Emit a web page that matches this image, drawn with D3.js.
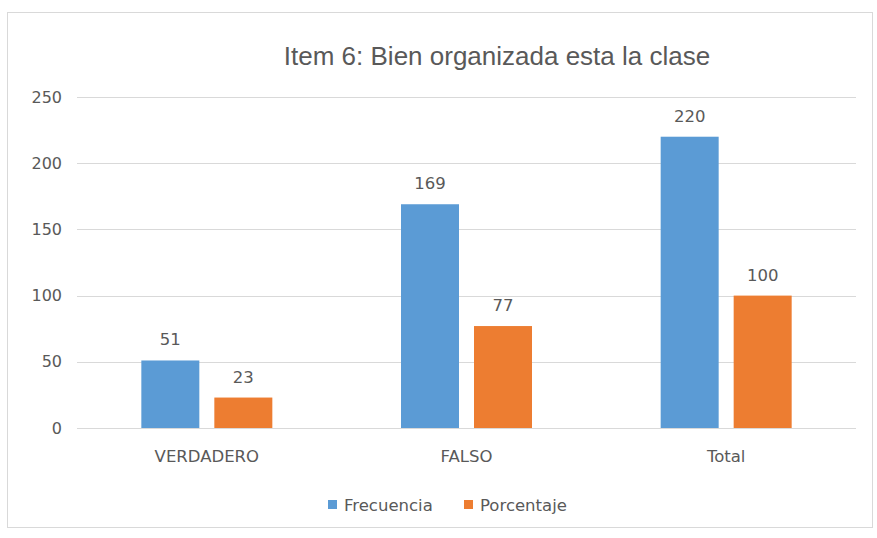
<!DOCTYPE html>
<html>
<head>
<meta charset="utf-8">
<script src="https://cdn.jsdelivr.net/npm/d3@7"></script>
<style>
  body { margin: 0; background: #fff; }
  text { fill: #595959; font-family: "DejaVu Sans", sans-serif; }
  .title { font-family: "Liberation Sans", Arial, sans-serif; font-size: 26px; }
</style>
</head>
<body>
<script>
// data
var categories = ["VERDADERO", "FALSO", "Total"];
var seriesNames = ["Frecuencia", "Porcentaje"];
var frecuencia = [51, 169, 220];
var porcentaje = [23, 77, 100];
var yTicks = [0, 50, 100, 150, 200, 250];
var titleText = "Item 6: Bien organizada esta la clase";

var colors = ["#5B9BD5", "#ED7D31"];

// size
var w = 877;
var h = 538;

// plot area
var pdL = 77;
var pdR = 21;
var pdT = 97;
var pdB = 110;

var svg = d3.select("body")
            .append("svg")
            .attr("width", w)
            .attr("height", h);

// chart border
svg.append("rect")
   .attr("x", 7.5)
   .attr("y", 12.5)
   .attr("width", 865)
   .attr("height", 515)
   .attr("fill", "#fff")
   .attr("stroke", "#d9d9d9")
   .attr("stroke-width", 1);

// scales
var scaleX = d3.scaleBand()
               .domain(categories)
               .range([pdL, w - pdR]);

var bw = scaleX.bandwidth();
var grpW = 131;
var scaleX1 = d3.scaleBand()
                .domain(seriesNames)
                .range([(bw - grpW) / 2, (bw + grpW) / 2])
                .paddingInner(15 / 73);

var scaleY = d3.scaleLinear()
               .domain([0, 250])
               .range([h - pdB, pdT]);

// gridlines
svg.append("g")
   .selectAll("line")
   .data(yTicks)
   .enter()
   .append("line")
   .attr("x1", pdL)
   .attr("x2", w - pdR)
   .attr("y1", function(d) { return Math.round(scaleY(d)) + 0.5; })
   .attr("y2", function(d) { return Math.round(scaleY(d)) + 0.5; })
   .attr("stroke", "#d9d9d9")
   .attr("stroke-width", 1);

// y axis labels
var axisY = d3.axisLeft(scaleY)
              .tickValues(yTicks)
              .tickSize(0)
              .tickPadding(15);
var gY = svg.append("g")
            .attr("transform", "translate(" + pdL + ",0)")
            .call(axisY);
gY.select(".domain").remove();
gY.selectAll("text")
  .attr("font-size", "16px")
  .attr("font-family", "DejaVu Sans")
  .attr("fill", "#595959");

// x axis labels
var axisX = d3.axisBottom(scaleX)
              .tickSize(0)
              .tickPadding(22);
var gX = svg.append("g")
            .attr("transform", "translate(0," + (h - pdB) + ")")
            .call(axisX);
gX.select(".domain").remove();
gX.selectAll("text")
  .attr("font-size", "16.5px")
  .attr("font-family", "DejaVu Sans")
  .attr("fill", "#595959");

// bars
var seriesVals = [frecuencia, porcentaje];
for (var s = 0; s < seriesNames.length; s++) {
    var vals = seriesVals[s];
    var g = svg.append("g");
    g.selectAll("rect")
     .data(categories)
     .enter()
     .append("rect")
     .attr("x", function(d) { return scaleX(d) + scaleX1(seriesNames[s]); })
     .attr("y", function(d, i) { return scaleY(vals[i]); })
     .attr("width", scaleX1.bandwidth())
     .attr("height", function(d, i) { return scaleY(0) - scaleY(vals[i]); })
     .attr("fill", colors[s]);

    // value labels
    g.selectAll("text")
     .data(categories)
     .enter()
     .append("text")
     .text(function(d, i) { return vals[i]; })
     .attr("x", function(d) { return scaleX(d) + scaleX1(seriesNames[s]) + scaleX1.bandwidth() / 2; })
     .attr("y", function(d, i) { return scaleY(vals[i]) - 15; })
     .attr("text-anchor", "middle")
     .attr("font-size", "16.5px");
}

// title
svg.append("text")
   .text(titleText)
   .attr("class", "title")
   .attr("x", 497)
   .attr("y", 65)
   .attr("text-anchor", "middle");

// legend
var legX = [328, 464];
for (var s = 0; s < seriesNames.length; s++) {
    svg.append("rect")
       .attr("x", legX[s])
       .attr("y", 500)
       .attr("width", 9)
       .attr("height", 9)
       .attr("fill", colors[s]);
    svg.append("text")
       .text(seriesNames[s])
       .attr("x", legX[s] + 16)
       .attr("y", 511)
       .attr("font-size", "16.5px");
}
</script>
</body>
</html>
